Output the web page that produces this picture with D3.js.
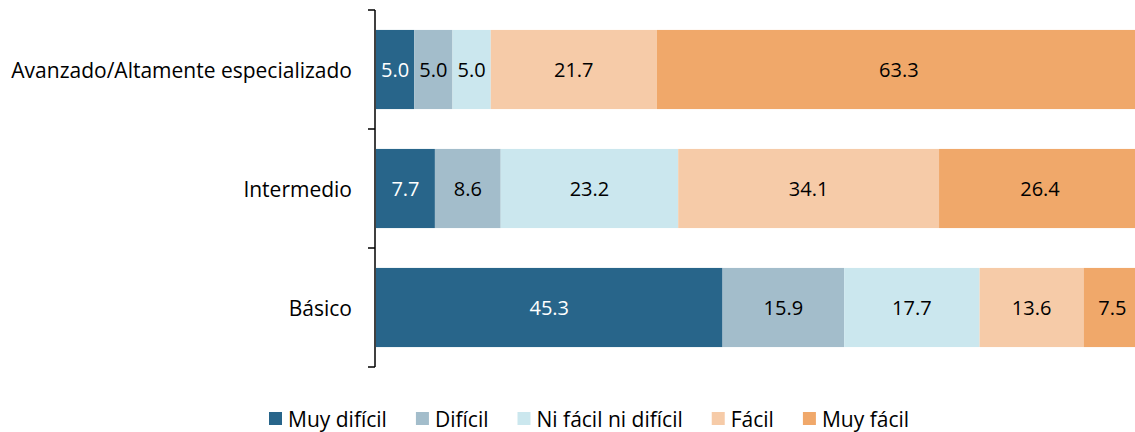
<!DOCTYPE html>
<html><head><meta charset="utf-8">
<script src="https://cdn.jsdelivr.net/npm/d3@7"></script>
<style>body{margin:0;background:#fff}svg{display:block}text{font-family:"Open Sans","Noto Sans",sans-serif}</style>
</head><body>
<svg id="c" width="1135" height="432"></svg>
<script>
const categories = ["Avanzado/Altamente especializado", "Intermedio", "Básico"];
const seriesNames = ["Muy difícil", "Difícil", "Ni fácil ni difícil", "Fácil", "Muy fácil"];
const muyDificil = [5.0, 7.7, 45.3];
const dificil = [5.0, 8.6, 15.9];
const niFacil = [5.0, 23.2, 17.7];
const facil = [21.7, 34.1, 13.6];
const muyFacil = [63.3, 26.4, 7.5];
const colors = ["#28658A", "#A3BDCB", "#CBE7EE", "#F6CBA8", "#F0A86A"];
const labelColors = ["#ffffff", "#000000", "#000000", "#000000", "#000000"];

const seriesVals = [muyDificil, dificil, niFacil, facil, muyFacil];
const rows = categories.map((c, i) => {
  const o = {cat: c};
  seriesNames.forEach((s, j) => o[s] = seriesVals[j][i]);
  return o;
});
const stack = d3.stack().keys(seriesNames)(rows);

const svg = d3.select("#c");
const x = d3.scaleLinear().domain([0, 100]).range([376, 1141]);
const y = d3.scaleBand().domain(categories).range([10, 367]).paddingInner(0.335).paddingOuter(0.1675);

svg.append("g").selectAll("g").data(stack).join("g")
  .attr("fill", (d, i) => colors[i])
  .selectAll("rect").data(d => d).join("rect")
  .attr("x", d => x(d[0])).attr("width", d => x(d[1]) - x(d[0]))
  .attr("y", d => y(d.data.cat)).attr("height", y.bandwidth());

svg.append("g").selectAll("g").data(stack).join("g")
  .attr("fill", (d, i) => labelColors[i])
  .selectAll("text").data(d => d).join("text")
  .attr("x", d => (x(d[0]) + x(d[1])) / 2)
  .attr("y", d => y(d.data.cat) + y.bandwidth() / 2)
  .attr("text-anchor", "middle").attr("dominant-baseline", "central")
  .attr("font-size", 20)
  .text(d => d3.format(".1f")(d[1] - d[0]));

// axis
const ax = svg.append("g").attr("transform", "translate(375,0)");
ax.append("line").attr("x1", 0).attr("x2", 0).attr("y1", 10).attr("y2", 367).attr("stroke", "#000").attr("stroke-width", 1.5);
const step = y.step();
const bounds = d3.range(categories.length + 1).map(i => y(categories[0]) - y.paddingInner() * step / 2 + i * step);
ax.selectAll("line.t").data(bounds).join("line").attr("class", "t")
  .attr("x1", -7).attr("x2", 0).attr("y1", d => d).attr("y2", d => d)
  .attr("stroke", "#000").attr("stroke-width", 1.5);
svg.append("g").selectAll("text").data(categories).join("text")
  .attr("x", 352).attr("y", d => y(d) + y.bandwidth() / 2)
  .attr("text-anchor", "end").attr("dominant-baseline", "central")
  .attr("font-size", 21).attr("fill", "#000").text(d => d);

// legend
const lg = svg.append("g");
let lx = 269;
seriesNames.forEach((s, i) => {
  lg.append("rect").attr("x", lx).attr("y", 412).attr("width", 13).attr("height", 13).attr("fill", colors[i]);
  const t = lg.append("text").attr("x", lx + 19).attr("y", 419).attr("dominant-baseline", "central")
    .attr("font-size", 21).attr("fill", "#000").text(s);
  lx += 19 + t.node().getComputedTextLength() + 29;
});
</script>
</body></html>
